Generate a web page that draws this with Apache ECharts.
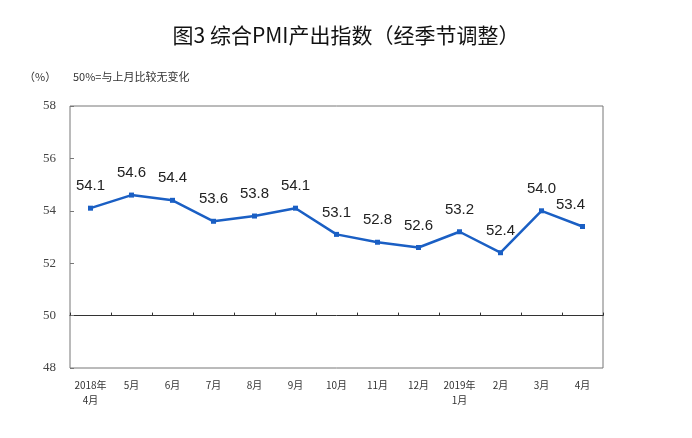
<!DOCTYPE html>
<html><head><meta charset="utf-8">
<script src="https://cdn.jsdelivr.net/npm/echarts@6/dist/echarts.min.js"></script>
<style>html,body{margin:0;padding:0;background:#fff}#c{width:692px;height:438px}</style>
</head><body><div id="c"></div>
<script>
const categories = ['2018年\n4月','5月','6月','7月','8月','9月','10月','11月','12月','2019年\n1月','2月','3月','4月'];
const values = [54.1, 54.6, 54.4, 53.6, 53.8, 54.1, 53.1, 52.8, 52.6, 53.2, 52.4, 54.0, 53.4];
const yTicks = [48, 50, 52, 54, 56, 58];

const gridTop = 106, gridBottom = 70, chartH = 438;
const plotH = chartH - gridTop - gridBottom;
const refOffset = -plotH * (50 - yTicks[0]) / (yTicks[yTicks.length - 1] - yTicks[0]);

const seriesData = values.map((v, i) => i === values.length - 1 ? {value: v, label: {offset: [-12, 0]}} : v);

const chart = echarts.init(document.getElementById('c'));
chart.setOption({
  backgroundColor: '#fff',
  animation: false,
  title: {
    text: '图3 综合PMI产出指数（经季节调整）',
    left: 'center', top: 20,
    textStyle: {fontFamily: 'Noto Sans CJK SC', fontSize: 21, fontWeight: 'normal', color: '#111'}
  },
  graphic: [
    {type: 'text', left: 24, top: 71, style: {text: '（%）', font: '11px "Noto Sans CJK SC"', fill: '#333'}},
    {type: 'text', left: 73, top: 71, style: {text: '50%=与上月比较无变化', font: '11px "Noto Sans CJK SC"', fill: '#333'}}
  ],
  grid: {left: 70, right: 89, top: gridTop, bottom: gridBottom, show: true, borderColor: '#777', borderWidth: 1},
  xAxis: [{
    type: 'category', data: categories, boundaryGap: true,
    axisLine: {show: false}, axisTick: {show: false},
    axisLabel: {interval: 0, fontFamily: 'Noto Sans CJK SC', fontSize: 10, color: '#333', margin: 10, lineHeight: 15}
  }, {
    type: 'category', data: categories, boundaryGap: true, position: 'bottom', offset: refOffset,
    axisLine: {show: true, onZero: false, lineStyle: {color: '#333', width: 1}},
    axisTick: {show: true, inside: true, length: 3, interval: 0, lineStyle: {color: '#333'}},
    axisLabel: {show: false}
  }],
  yAxis: {
    type: 'value', min: yTicks[0], max: yTicks[yTicks.length - 1], interval: 2,
    axisLine: {show: false},
    axisTick: {show: true, inside: true, length: 4, lineStyle: {color: '#777'}},
    splitLine: {show: false},
    axisLabel: {fontFamily: 'Liberation Serif', fontSize: 13, color: '#444', margin: 14}
  },
  series: [{
    type: 'line', data: seriesData,
    symbol: 'rect', symbolSize: 5,
    lineStyle: {color: '#1a5fc4', width: 2.5},
    itemStyle: {color: '#1a5fc4'},
    label: {show: true, position: 'top', distance: 12, formatter: p => p.value.toFixed(1),
      fontFamily: 'Liberation Sans', fontSize: 15, color: '#222'}
  }]
});
</script></body></html>
